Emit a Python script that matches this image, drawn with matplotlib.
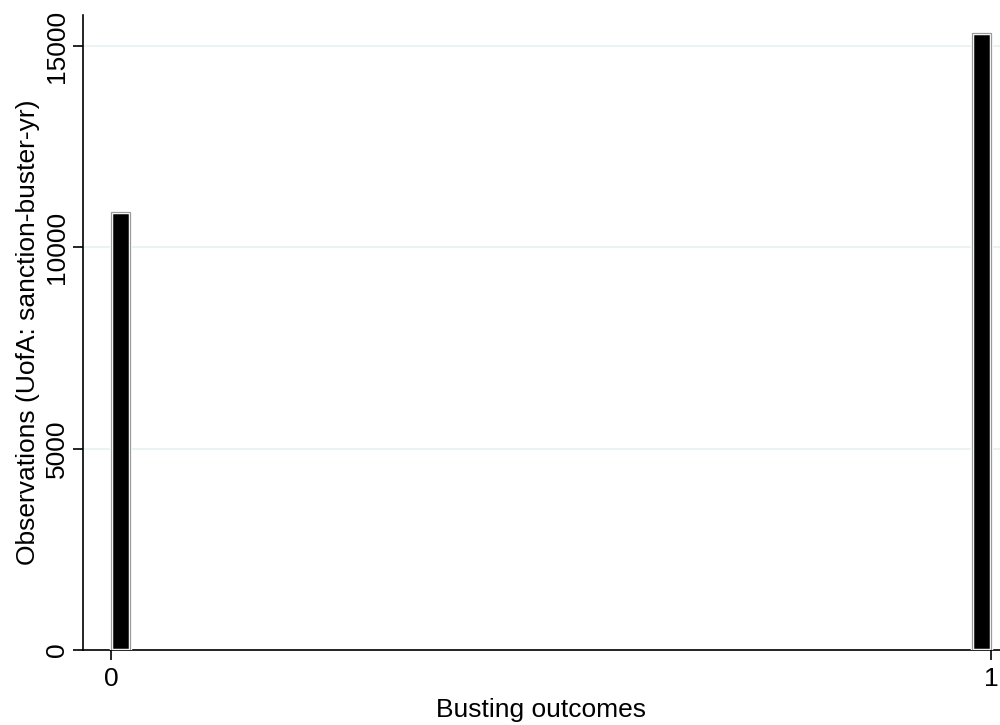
import matplotlib.pyplot as plt

plt.rcParams['font.family'] = ['Liberation Sans', 'DejaVu Sans']

# Histogram of busting outcomes (two bins)
bin_left = [0.0, 0.9785]
bin_width = 0.0215
counts = [10865, 15330]

fig = plt.figure(figsize=(10, 7.25), dpi=100)
ax = fig.add_axes([0.083, 0.1034, 0.917, 0.876])

ax.bar(bin_left, counts, width=bin_width, align='edge', color='black',
       edgecolor='white', linewidth=2.5, zorder=3)
ax.bar(bin_left, counts, width=bin_width, align='edge', fill=False,
       edgecolor='#9a9a9a', linewidth=0.9, zorder=4)

ax.set_xlim(-0.0318, 1.0102)
ax.set_ylim(0, 15770)
ax.set_xticks([0, 1])
ax.set_yticks([0, 5000, 10000, 15000])
ax.set_yticklabels(['0', '5000', '10000', '15000'], rotation=90, va='center')
ax.yaxis.grid(True, color='#e8f0f1', linewidth=1.2, zorder=0)
ax.set_axisbelow(True)

for side in ['top', 'right']:
    ax.spines[side].set_visible(False)
ax.spines['left'].set_linewidth(1.2)
ax.spines['bottom'].set_linewidth(1.2)
ax.tick_params(direction='out', length=7, width=1.2, labelsize=19, pad=5)
ax.tick_params(axis='y', pad=3)

ax.set_xlabel('Busting outcomes', fontsize=19, labelpad=5)
ax.set_ylabel('Observations (UofA: sanction-buster-yr)', fontsize=19, labelpad=4)

fig.savefig('out.png', dpi=100)
